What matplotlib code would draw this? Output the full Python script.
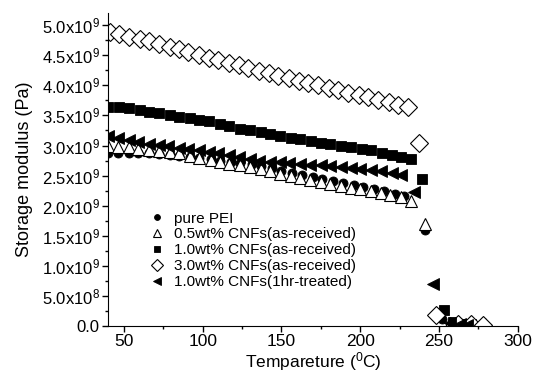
import matplotlib.pyplot as plt
from matplotlib.ticker import FixedLocator, MultipleLocator

plt.rcParams['font.family'] = ['Liberation Sans', 'DejaVu Sans']
plt.rcParams['mathtext.fontset'] = 'custom'
plt.rcParams['mathtext.rm'] = 'Liberation Sans'
plt.rcParams['mathtext.it'] = 'Liberation Sans'

# Storage modulus data, values in units of 1e9 Pa
t_pei = [40, 46, 53, 59, 66, 72, 79, 85, 92, 98, 105, 111, 118, 124, 131, 137, 144, 150,
         157, 163, 170, 176, 183, 189, 196, 202, 209, 215, 222, 228, 241, 252, 258, 263, 268]
e_pei = [2.88, 2.88, 2.88, 2.87, 2.87, 2.86, 2.85, 2.83, 2.81, 2.79, 2.77, 2.75, 2.73, 2.71,
         2.69, 2.66, 2.62, 2.58, 2.55, 2.51, 2.47, 2.44, 2.41, 2.37, 2.34, 2.31, 2.27, 2.24,
         2.20, 2.16, 1.60, 0.12, 0.05, 0.03, 0.02]

t_05 = [40, 46, 53, 59, 66, 72, 79, 85, 92, 98, 105, 111, 117, 124, 130, 137, 143, 149,
        156, 162, 168, 175, 181, 188, 194, 200, 207, 213, 219, 226, 232, 241, 257, 264, 270, 279]
e_05 = [3.00, 2.98, 2.97, 2.95, 2.93, 2.91, 2.89, 2.87, 2.83, 2.80, 2.76, 2.73, 2.70, 2.67,
        2.64, 2.61, 2.57, 2.53, 2.50, 2.46, 2.43, 2.39, 2.36, 2.33, 2.30, 2.27, 2.24, 2.21,
        2.18, 2.15, 2.08, 1.70, 0.05, 0.04, 0.04, 0.03]

t_10 = [40, 47, 53, 60, 66, 72, 79, 85, 92, 98, 104, 111, 117, 124, 130, 137, 143, 149,
        156, 162, 169, 175, 181, 188, 194, 201, 207, 214, 220, 226, 232, 239, 253, 259, 264, 270]
e_10 = [3.64, 3.64, 3.62, 3.59, 3.56, 3.54, 3.51, 3.48, 3.46, 3.43, 3.40, 3.36, 3.32, 3.28,
        3.25, 3.22, 3.19, 3.16, 3.13, 3.11, 3.08, 3.05, 3.02, 3.00, 2.97, 2.95, 2.92, 2.88,
        2.84, 2.81, 2.77, 2.44, 0.27, 0.06, 0.03, 0.03]

t_30 = [41, 47, 53, 60, 66, 72, 79, 85, 91, 98, 104, 110, 117, 123, 129, 136, 142, 148,
        155, 161, 167, 173, 180, 186, 192, 199, 205, 211, 218, 224, 230, 237, 248, 262, 270, 278]
e_30 = [4.88, 4.85, 4.81, 4.77, 4.73, 4.68, 4.64, 4.60, 4.55, 4.50, 4.46, 4.42, 4.37, 4.33,
        4.29, 4.24, 4.20, 4.16, 4.12, 4.08, 4.04, 4.00, 3.96, 3.92, 3.88, 3.84, 3.80, 3.76,
        3.72, 3.68, 3.64, 3.05, 0.18, 0.03, 0.03, 0.02]

t_1hr = [40, 46, 53, 59, 66, 72, 78, 85, 91, 98, 104, 110, 117, 123, 130, 136, 143, 149,
         155, 162, 168, 175, 181, 188, 194, 200, 207, 213, 220, 226, 234, 246, 257, 263, 268]
e_1hr = [3.15, 3.12, 3.09, 3.06, 3.03, 3.01, 2.99, 2.96, 2.94, 2.92, 2.90, 2.87, 2.84, 2.81,
         2.78, 2.75, 2.73, 2.72, 2.71, 2.70, 2.68, 2.67, 2.66, 2.64, 2.63, 2.61, 2.59, 2.57,
         2.55, 2.51, 2.22, 0.70, 0.05, 0.03, 0.02]

ytick_vals = [0, 0.5, 1.0, 1.5, 2.0, 2.5, 3.0, 3.5, 4.0, 4.5, 5.0]
ytick_labels = ['0.0', r'5.0x10$^{8}$', r'1.0x10$^{9}$', r'1.5x10$^{9}$', r'2.0x10$^{9}$',
                r'2.5x10$^{9}$', r'3.0x10$^{9}$', r'3.5x10$^{9}$', r'4.0x10$^{9}$',
                r'4.5x10$^{9}$', r'5.0x10$^{9}$']

fig = plt.figure(figsize=(5.35, 3.76), dpi=100)
ax = fig.add_axes([0.202, 0.133, 0.766, 0.832])

s = 1e9
ax.plot(t_pei, [v * s for v in e_pei], 'o', color='black', ms=6.5, mec='black',
        mew=0.6, label='pure PEI')
ax.plot(t_05, [v * s for v in e_05], '^', color='white', ms=8, mec='black',
        mew=0.8, label='0.5wt% CNFs(as-received)')
ax.plot(t_10, [v * s for v in e_10], 's', color='black', ms=7, mec='black',
        mew=0.6, label='1.0wt% CNFs(as-received)')
ax.plot(t_30, [v * s for v in e_30], 'D', color='white', ms=9.5, mec='black',
        mew=0.8, label='3.0wt% CNFs(as-received)')
ax.plot(t_1hr, [v * s for v in e_1hr], '<', color='black', ms=8, mec='black',
        mew=0.6, label='1.0wt% CNFs(1hr-treated)')

ax.set_xlim(40, 300)
ax.set_ylim(0, 5.2e9)
ax.xaxis.set_major_locator(MultipleLocator(50))
ax.xaxis.set_minor_locator(MultipleLocator(25))
ax.yaxis.set_major_locator(FixedLocator([v * s for v in ytick_vals]))
ax.yaxis.set_minor_locator(MultipleLocator(0.25e9))
ax.set_yticklabels(ytick_labels)

ax.spines['top'].set_visible(False)
ax.spines['right'].set_visible(False)
ax.tick_params(which='major', direction='out', length=4, width=1, labelsize=12, pad=2)
ax.tick_params(axis='x', which='major', labelsize=12.5)
ax.tick_params(which='minor', direction='out', length=2.5, width=1)

ax.set_xlabel(r'Tempareture ($^{0}$C)', fontsize=12.5, labelpad=0.5)
ax.set_ylabel('Storage modulus (Pa)', fontsize=13, labelpad=6)

ax.legend(loc='upper left', bbox_to_anchor=(0.083, 0.385), frameon=False,
          fontsize=11, markerscale=0.65, handletextpad=0.5, labelspacing=0.12,
          handlelength=1.2, borderaxespad=0)

fig.savefig('out.png', dpi=100)
